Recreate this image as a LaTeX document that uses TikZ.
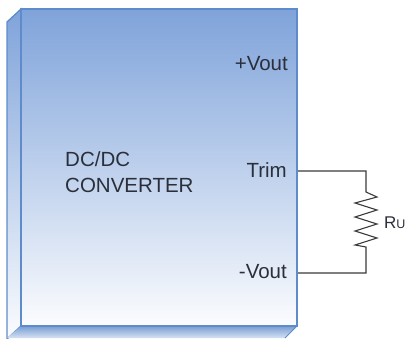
\documentclass[tikz,border=0pt]{standalone}
\usepackage{fontspec}
\setmainfont{Liberation Sans}
\definecolor{edgeb}{HTML}{5E8CCB}
\definecolor{topb}{HTML}{7FA3DA}
\definecolor{botb}{HTML}{FBFCFE}
\definecolor{wire}{HTML}{3A3A3A}
\definecolor{txt}{HTML}{2A2F3A}
\tikzset{
  face/.style={draw=edgeb,line width=1.3pt},
  wirel/.style={draw=wire,line width=1.1pt},
  lbl/.style={text=txt,font=\fontsize{20.5}{24}\selectfont,inner sep=0pt},
  lbr/.style={lbl,anchor=base east},
}
\begin{document}
\begin{tikzpicture}[x=1pt,y=-1pt]
\useasboundingbox (0,0) rectangle (406,338);
% left face
\path[face,top color=topb,bottom color=botb] (7,22) -- (21,9) -- (21,326) -- (7,339) -- cycle;
% bottom face
\path[top color=edgeb!85!white,bottom color=edgeb!25!white] (21,326) -- (297,326) -- (285,338) -- (7,338) -- cycle;
% front face
\path[face,top color=topb,bottom color=botb] (21,9) rectangle (297,326);
\draw[edgeb,line width=1pt] (297,326) -- (285,338);
\node[lbl,anchor=base west] (dc) at (65,166) {DC/DC};
\node[lbl,anchor=base west] (cv) at (65,192) {CONVERTER};
\node[lbr] (vp) at (288,70) {+Vout};
\node[lbr] (tr) at (287,177) {Trim};
\node[lbr] (vm) at (287,278) {-Vout};
\coordinate (a) at (298,171);
\coordinate (b) at (366,171);
\coordinate (c) at (298,273);
\coordinate (d) at (366,273);
\coordinate (r1) at (366,192);
\coordinate (r2) at (366,247);
\draw[wirel] (a) -- (b) -- (r1)
  -- (377,197) -- (355,203) -- (377,210) -- (355,217) -- (377,224) -- (355,231) -- (377,238) -- (355,245) -- (r2)
  -- (d) -- (c);
\node[text=txt,inner sep=0pt,anchor=base west,font=\fontsize{17}{20}\selectfont] (ru) at (384,228) {R\fontsize{12.5}{14}\selectfont U};
\end{tikzpicture}
\end{document}
